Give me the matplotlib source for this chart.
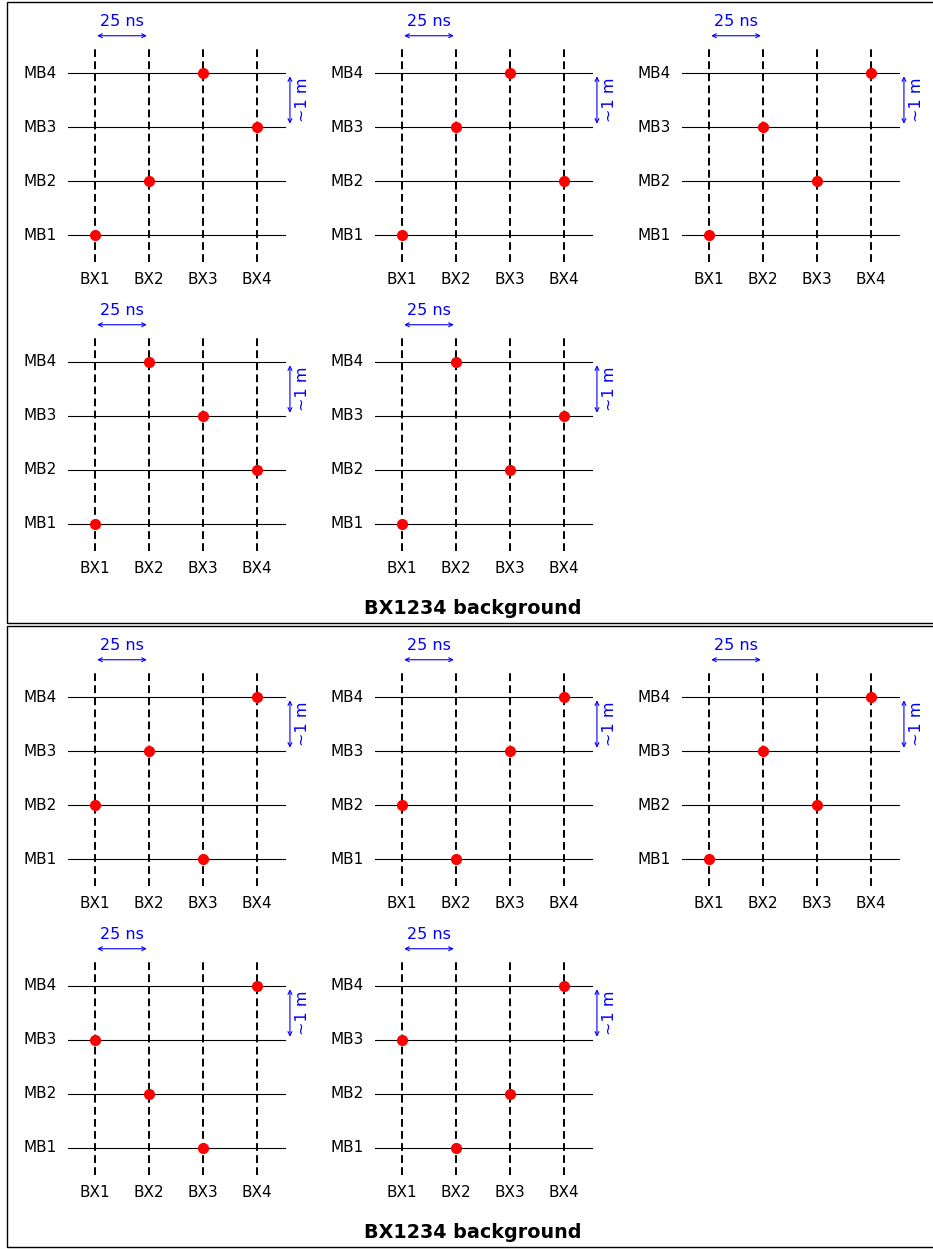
import matplotlib
matplotlib.use("Agg")
import matplotlib.pyplot as plt
from matplotlib.patches import Rectangle

W, H = 933, 1249
DPI = 100

stations = ["MB1", "MB2", "MB3", "MB4"]
bx_labels = ["BX1", "BX2", "BX3", "BX4"]
title = "BX1234 background"

# BX index (1..4) of the hit for MB1..MB4, per panel
box1_hits = [
    [1, 2, 4, 3],
    [1, 4, 2, 3],
    [1, 3, 2, 4],
    [1, 4, 3, 2],
    [1, 3, 4, 2],
]
box2_hits = [
    [3, 1, 2, 4],
    [2, 1, 3, 4],
    [1, 3, 2, 4],
    [3, 2, 1, 4],
    [2, 3, 1, 4],
]
panel_grid = [(0, 0), (0, 1), (0, 2), (1, 0), (1, 1)]

fig = plt.figure(figsize=(W / DPI, H / DPI), dpi=DPI)

SC = 54.0
COL_OFF = 307
ROW_OFF = 289
BOX_OFF = 624


def px_axes(left, top, width, height):
    return fig.add_axes([left / W, 1 - (top + height) / H, width / W, height / H])


def draw_panel(b, r, c, hits):
    x0 = 95 + COL_OFF * c
    y0 = 235 + ROW_OFF * r + BOX_OFF * b
    left = x0 - 0.5 * SC
    width = 4.5 * SC
    bottom_px = y0 + 0.5 * SC
    top_px = bottom_px - 4.5 * SC
    ax = px_axes(left, top_px, width, 4.5 * SC)
    ax.set_xlim(0.5, 5.0)
    ax.set_ylim(0.5, 5.0)
    ax.axis("off")
    ys = range(1, len(stations) + 1)
    xs = range(1, len(bx_labels) + 1)
    for y in ys:
        ax.plot([0.5, 4.52], [y, y], color="black", lw=0.8, zorder=1)
    for x in xs:
        ax.plot([x, x], [0.5, 4.5], color="black", lw=1.4, ls=(0, (4, 2.2)), zorder=1)
    ax.plot(hits, list(ys), "o", color="red", ms=7, zorder=3, clip_on=False)
    for y, lab in zip(ys, stations):
        ax.text(0.3, y, lab, ha="right", va="center", fontsize=11, clip_on=False)
    for x, lab in zip(xs, bx_labels):
        ax.text(x, 0.17, lab, ha="center", va="center", fontsize=11, clip_on=False)
    # 25 ns arrow
    ax.annotate("", xy=(1.96, 4.69), xytext=(1.04, 4.69),
                arrowprops=dict(arrowstyle="<->", color="blue", lw=0.8,
                                shrinkA=0, shrinkB=0, mutation_scale=7))
    ax.text(1.5, 4.96, "25 ns", color="blue", ha="center", va="center", fontsize=11.5)
    # ~1 m arrow
    ax.annotate("", xy=(4.61, 3.94), xytext=(4.61, 3.06),
                arrowprops=dict(arrowstyle="<->", color="blue", lw=0.8,
                                shrinkA=0, shrinkB=0, mutation_scale=7))
    ax.text(4.85, 3.5, "~1 m", color="blue", ha="center", va="center",
            fontsize=11.5, rotation=90)


for b, hits_set in enumerate([box1_hits, box2_hits]):
    for (r, c), hits in zip(panel_grid, hits_set):
        draw_panel(b, r, c, hits)
    top = 2 + BOX_OFF * b
    bot = 623 + BOX_OFF * b
    fig.patches.append(Rectangle((7 / W, 1 - bot / H), (940 - 7) / W, (bot - top) / H,
                                 transform=fig.transFigure, fill=False,
                                 edgecolor="black", lw=1.0))
    fig.text(473 / W, 1 - (609 + BOX_OFF * b) / H, title, ha="center", va="center",
             fontsize=13.8, fontweight="bold")

fig.savefig("out.png", dpi=DPI)
